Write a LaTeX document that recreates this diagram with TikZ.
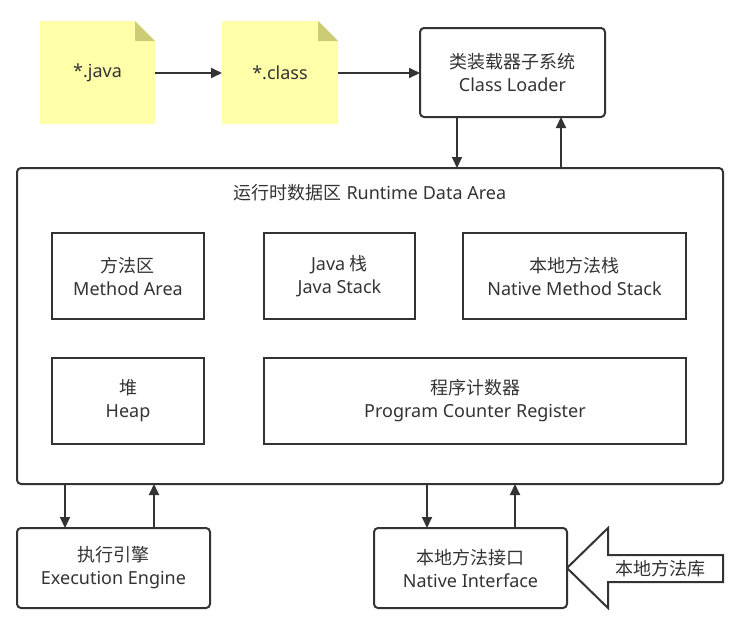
\documentclass[tikz,border=0pt]{standalone}
\usepackage{fontspec}
\setmainfont{Noto Sans}
\newfontfamily\cjkf{Noto Sans CJK SC}
\newcommand{\zh}[1]{{\cjkf #1}}
\usetikzlibrary{arrows.meta}
\definecolor{ink}{HTML}{333333}
\definecolor{note}{HTML}{FFFFAA}
\definecolor{fold}{HTML}{CCCC77}
\begin{document}
\begin{tikzpicture}[x=1pt,y=-1pt,
  every node/.style={font=\fontsize{18}{23}\selectfont, text=ink, align=center},
  box/.style={draw=ink, line width=2pt, rounded corners=4pt},
  inner/.style={draw=ink, line width=2pt},
  conn/.style={draw=ink, line width=2pt, -{Triangle[length=11pt,width=10pt]}}]
\useasboundingbox (0,0) rectangle (740,624);
% notes
\fill[note] (40,21) -- (135,21) -- (155,41) -- (155,124) -- (40,124) -- cycle;
\fill[fold] (135,21) -- (155,41) -- (135,41) -- cycle;
\node (java) at (97.5,73) {*.java};
\coordinate (javaR) at (155,73);
\fill[note] (222,21) -- (318,21) -- (338,41) -- (338,124) -- (222,124) -- cycle;
\fill[fold] (318,21) -- (338,41) -- (318,41) -- cycle;
\node (cls) at (280,73) {*.class};
\coordinate (clsL) at (222,73);
\coordinate (clsR) at (338,73);
% class loader
\draw[box] (420,28) rectangle (605,117);
\node (cl) at (512.5,72) {\zh{类装载器子系统}\\Class Loader};
\coordinate (clL) at (420,73);
% runtime
\draw[box] (17,168) rectangle (723,484);
\node (rda) at (370,193) {\zh{运行时数据区} Runtime Data Area};
\draw[inner] (52,233) rectangle (204,319);
\node (ma) at (128,276) {\zh{方法区}\\Method Area};
\draw[inner] (264,233) rectangle (415,319);
\node (js) at (339.5,276) {Java \zh{栈}\\Java Stack};
\draw[inner] (463,233) rectangle (686,319);
\node (nms) at (574.5,276) {\zh{本地方法栈}\\Native Method Stack};
\draw[inner] (52,358) rectangle (204,444);
\node (heap) at (128,401) {\zh{堆}\\Heap};
\draw[inner] (264,358) rectangle (686,444);
\node (pc) at (475,401) {\zh{程序计数器}\\Program Counter Register};
% bottom boxes
\draw[box] (17,528) rectangle (210,608);
\node (ee) at (113.5,568) {\zh{执行引擎}\\Execution Engine};
\draw[box] (374,528) rectangle (567,608);
\node (ni) at (470.5,568) {\zh{本地方法接口}\\Native Interface};
% big arrow
\draw[draw=ink, line width=2pt, fill=white, line join=miter]
  (567,568) -- (608,528) -- (608,555) -- (723,555) -- (723,582) -- (608,582) -- (608,608) -- cycle;
\node (lib) at (660,568.5) {\zh{本地方法库}};
% connectors
\draw[conn] (javaR) -- (clsL);
\draw[conn] (clsR) -- (clL);
\draw[conn] (457,117) -- (457,168);
\draw[conn] (561,168) -- (561,117);
\draw[conn] (65,484) -- (65,528);
\draw[conn] (154,528) -- (154,484);
\draw[conn] (427,484) -- (427,528);
\draw[conn] (515,528) -- (515,484);
\end{tikzpicture}
\end{document}
